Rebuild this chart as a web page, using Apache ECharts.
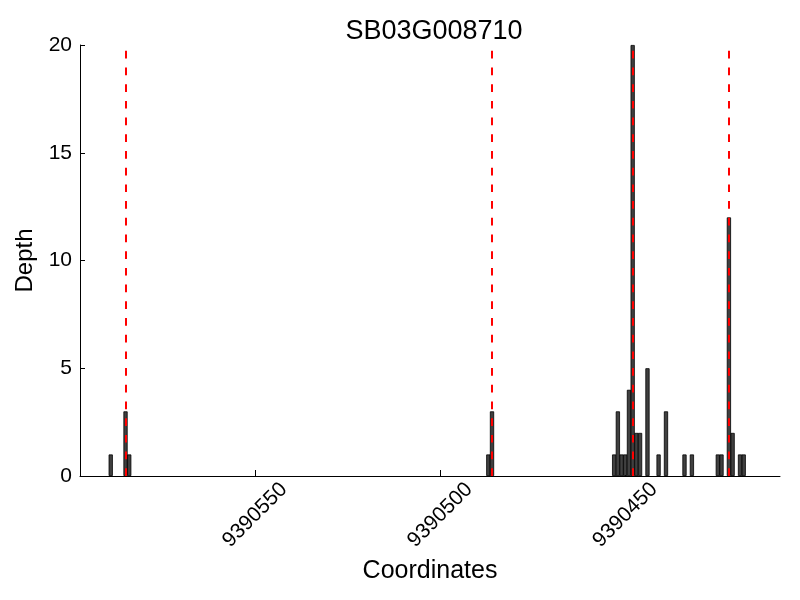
<!DOCTYPE html>
<html>
<head>
<meta charset="utf-8">
<script src="https://cdn.jsdelivr.net/npm/echarts@6/dist/echarts.min.js"></script>
<style>html,body{margin:0;padding:0;background:#fff}#chart{width:800px;height:600px}</style>
</head>
<body>
<div id="chart"></div>
<script>
var titleText = 'SB03G008710';
var positions = [9390589, 9390585, 9390584, 9390487, 9390486, 9390453, 9390452, 9390451, 9390450, 9390449, 9390448, 9390447, 9390446, 9390444, 9390441, 9390439, 9390434, 9390432, 9390425, 9390424, 9390422, 9390421, 9390419, 9390418];
var depths = [1, 3, 1, 1, 3, 1, 3, 1, 1, 4, 20, 2, 2, 5, 1, 3, 1, 1, 1, 1, 12, 2, 1, 1];
var exonLines = [9390585, 9390486, 9390448, 9390422];
var xTicks = [9390450, 9390500, 9390550];
var yTicks = [0, 5, 10, 15, 20];

var FONT = 'Liberation Sans, Arial, sans-serif';
var chart = echarts.init(document.getElementById('chart'), null, {renderer: 'canvas'});
var barData = positions.map(function (p, i) { return [p, depths[i]]; });
chart.setOption({
  animation: false,
  backgroundColor: '#fff',
  title: {
    text: titleText, left: 429, top: 13, textAlign: 'center',
    textStyle: {fontFamily: FONT, fontSize: 27, fontWeight: 'normal', color: '#000'}
  },
  grid: {left: 80, right: 20, top: 45, bottom: 124, containLabel: false, outerBoundsMode: 'none'},
  xAxis: {
    type: 'value', inverse: true, min: 9390408.2, max: 9390597.3,
    name: 'Coordinates', nameLocation: 'middle', nameGap: 79,
    nameTextStyle: {fontFamily: FONT, fontSize: 25, color: '#000'},
    axisLine: {show: true, onZero: false, lineStyle: {color: '#000', width: 1}},
    axisTick: {show: true, inside: true, length: 6, customValues: xTicks, lineStyle: {color: '#000'}},
    axisLabel: {
      customValues: xTicks, rotate: 45, align: 'center', verticalAlign: 'middle', margin: 39,
      fontFamily: FONT, fontSize: 21, color: '#000',
      formatter: function (v) { return String(v); }
    },
    splitLine: {show: false}
  },
  yAxis: {
    type: 'value', min: 0, max: 20, interval: 5,
    name: 'Depth', nameLocation: 'middle', nameGap: 41,
    nameTextStyle: {fontFamily: FONT, fontSize: 24, color: '#000'},
    axisLine: {show: true, lineStyle: {color: '#000', width: 1}},
    axisTick: {show: true, inside: true, length: 5, lineStyle: {color: '#000'}},
    axisLabel: {margin: 8, fontFamily: FONT, fontSize: 21, color: '#000'},
    splitLine: {show: false}
  },
  series: [{
    type: 'bar',
    data: barData,
    barWidth: 4.2,
    itemStyle: {color: '#404040', borderColor: '#000', borderWidth: 0.8},
    markLine: {
      silent: true, symbol: 'none', label: {show: false},
      lineStyle: {color: '#ff0000', width: 2, type: [7.7, 9], opacity: 1},
      data: exonLines.map(function (v) { return {xAxis: v}; })
    }
  }]
});
</script>
</body>
</html>
